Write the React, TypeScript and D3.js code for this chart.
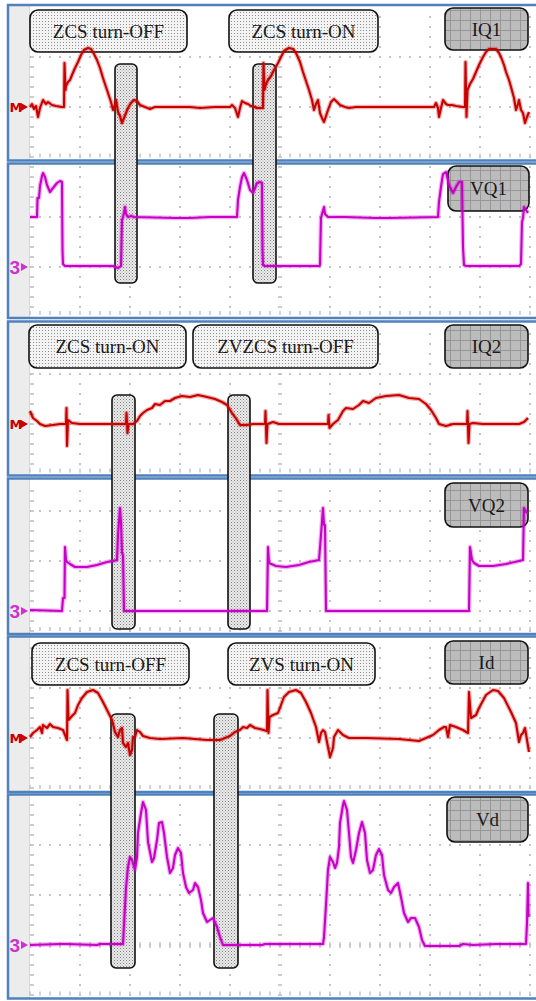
import React from 'react';
import * as d3 from 'd3';

type Pt = [number, number];

// time in minor divisions (10 per major division), value in minor divisions above the channel marker
const iq1: Pt[] = [
  [0, 0], [0.2, 0.3], [0.4, -0.2], [0.6, 0.1], [0.8, -1.0], [1.0, -0.1], [1.3, 0.7], [1.6, 0.3], [1.8, 0.5],
  [2.2, 0.2], [2.6, 0.1], [3.2, 0], [3.4, 0], [3.45, 4.4], [3.55, 1.7], [3.6, 2.1], [3.8, 2.5], [4.0, 2.7],
  [4.2, 3.2], [4.5, 3.9], [4.8, 4.5], [5.1, 5.2], [5.4, 5.7], [5.8, 5.9], [6.1, 5.8], [6.4, 5.3], [6.7, 4.7],
  [7.0, 3.9], [7.3, 2.9], [7.6, 2.0], [7.9, 1.1], [8.1, 0.5], [8.3, -0.3], [8.5, 0.3], [8.6, 0.7], [8.8, -0.5],
  [9.0, -0.9], [9.2, -1.6], [9.4, -1.1], [9.6, -0.6], [9.8, -0.1], [10.1, 0.4], [10.4, 0.7], [10.7, 0.6],
  [11.0, 0.2], [11.5, 0], [12.0, -0.2], [12.5, 0], [16.0, 0], [17.0, -0.1], [18.5, 0], [20.0, 0], [20.2, 0.2],
  [20.5, -0.1], [20.8, -1.0], [21.0, -0.1], [21.2, 0.6], [21.5, 0.4], [21.8, 0.3], [22.1, 0.1], [22.5, 0],
  [22.7, -0.1], [23.3, -0.1], [23.35, 4.4], [23.45, 1.7], [23.6, 2.3], [23.8, 2.7], [24.1, 3.1], [24.4, 3.7],
  [24.8, 4.4], [25.1, 5.0], [25.4, 5.6], [25.9, 5.9], [26.3, 5.8], [26.6, 5.4], [27.0, 4.5], [27.3, 3.5],
  [27.6, 2.6], [27.9, 1.7], [28.2, 0.7], [28.4, -0.3], [28.6, 0.3], [28.8, 0.7], [29.0, -0.6], [29.2, -1.1],
  [29.4, -1.5], [29.6, -0.9], [29.8, -0.3], [30.1, 0.5], [30.4, 0.8], [30.7, 0.5], [31.0, 0.2], [31.5, 0],
  [31.9, -0.1], [32.6, 0], [40.4, 0], [40.6, 0.4], [40.8, -0.1], [40.9, -1.0], [41.1, -0.1], [41.3, 0.7],
  [41.6, 0.3], [41.8, 0.2], [42.2, 0.2], [42.6, 0.1], [43.3, 0], [43.5, 0], [43.55, 4.5], [43.65, -1.0],
  [43.75, 1.7], [44.0, 2.3], [44.3, 2.8], [44.6, 3.5], [44.9, 4.2], [45.3, 5.0], [45.6, 5.5], [45.9, 5.8],
  [46.6, 5.8], [46.9, 5.4], [47.1, 5.0], [47.4, 4.2], [47.6, 3.5], [47.9, 2.7], [48.1, 2.0], [48.4, 0.9],
  [48.6, -0.3], [48.8, 0.3], [48.9, 0.7], [49.1, -0.3], [49.3, -0.6], [49.5, -1.6], [49.7, -1.0], [49.9, -0.5],
];

const vq1: Pt[] = [
  [0, 5.0], [0.7, 5.0], [0.75, 6.9], [0.9, 6.9], [1.0, 8.1], [1.2, 9.1], [1.3, 9.4], [1.5, 9.0], [1.7, 8.2],
  [2.0, 7.5], [2.3, 7.9], [2.7, 8.4], [3.0, 8.6], [3.2, 8.5], [3.25, 1.7], [3.3, 0.3], [3.5, 0.1], [8.3, 0.1],
  [8.8, -0.1], [9.1, 0.1], [9.2, 4.7], [9.3, 5.0], [9.4, 5.4], [9.5, 6.0], [9.6, 5.3], [9.8, 5.0], [10.1, 5.1],
  [10.4, 5.0], [14.5, 4.9], [16.0, 4.9], [18.0, 5.0], [20.7, 5.0], [20.8, 6.7], [21.0, 8.0], [21.2, 9.0],
  [21.4, 9.4], [21.7, 8.7], [22.0, 7.7], [22.3, 7.4], [22.7, 8.4], [23.0, 8.5], [23.2, 8.4], [23.25, 1.9],
  [23.3, 0.2], [23.5, 0.1], [28.9, 0.1], [29.0, 0.2], [29.1, 4.9], [29.2, 5.3], [29.4, 6.0], [29.5, 5.3],
  [29.8, 5.0], [31.5, 5.0], [34.5, 4.9], [36.0, 4.9], [40.8, 5.0], [40.9, 6.5], [41.1, 8.0], [41.3, 9.3],
  [41.6, 9.5], [41.9, 8.2], [42.3, 7.4], [42.6, 8.0], [42.9, 8.5], [43.2, 8.5], [43.3, 2.0], [43.4, 0.2],
  [43.6, 0.1], [48.9, 0.1], [49.1, 0.3], [49.2, 4.5], [49.3, 4.9], [49.4, 6.0], [49.6, 5.7], [49.8, 5.4],
];

const iq2: Pt[] = [
  [0, 1.3], [0.3, 0.6], [0.7, 0.3], [1.0, 0], [1.5, -0.2], [2.3, -0.1], [3.0, 0], [3.6, 0], [3.65, 1.6],
  [3.7, -2.2], [3.8, 0.4], [4.2, 0.1], [5.0, 0], [8.3, 0], [9.6, 0], [9.65, 1.1], [9.75, -0.9], [9.85, 0],
  [10.3, 0], [10.7, 0.3], [11.0, 0.8], [11.3, 1.1], [11.7, 1.4], [12.2, 1.6], [12.5, 2.0], [13.0, 1.9],
  [13.5, 2.3], [14.0, 2.3], [14.5, 2.6], [15.2, 2.8], [16.0, 2.7], [16.8, 2.9], [17.7, 2.7], [18.5, 2.5],
  [19.2, 2.2], [19.7, 1.9], [20.2, 1.1], [20.7, 0.4], [21.0, -0.1], [21.7, -0.1], [22.3, 0], [23.5, 0],
  [23.55, 1.3], [23.65, -1.9], [23.75, 0], [24.3, 0.2], [24.9, 0], [29.8, 0], [29.85, 0.9], [29.95, -0.4],
  [30.3, 0], [30.8, 0.4], [31.3, 1.3], [31.6, 1.6], [32.3, 1.5], [32.9, 1.9], [33.3, 2.3], [33.9, 2.1],
  [34.6, 2.6], [35.6, 2.8], [36.9, 2.9], [37.9, 2.6], [38.9, 2.5], [39.6, 2.0], [40.1, 1.4], [40.6, 0.6],
  [40.9, 0], [41.6, -0.2], [42.3, 0], [43.7, 0], [43.75, 1.3], [43.85, -1.9], [43.95, 0], [44.3, 0.1],
  [45.3, 0], [48.9, 0], [49.4, 0.2], [49.8, 0.6],
];

const vq2: Pt[] = [
  [0, 0.1], [3.2, 0], [3.3, 1.3], [3.45, 1.3], [3.5, 6.4], [3.6, 5.1], [3.7, 4.9], [4.0, 4.7], [4.5, 4.4],
  [5.7, 4.4], [6.7, 4.6], [7.7, 4.9], [8.3, 5.0], [8.7, 5.1], [8.8, 7.6], [9.0, 10.3], [9.1, 8.9], [9.2, 5.8],
  [9.3, 5.6], [9.4, 0], [9.7, 0], [23.7, 0], [23.8, 6.4], [23.9, 4.8], [24.6, 4.5], [25.6, 4.4], [26.9, 4.6],
  [27.9, 4.9], [28.9, 5.1], [29.1, 7.6], [29.3, 10.3], [29.4, 8.6], [29.5, 8.6], [29.6, 0], [43.9, 0],
  [44.0, 6.4], [44.2, 5.1], [44.4, 4.8], [44.9, 4.5], [46.3, 4.5], [47.6, 4.7], [48.9, 5.0], [49.3, 5.1],
  [49.4, 10.3], [49.6, 9.9], [49.8, 9.8],
];

const idr: Pt[] = [
  [0, 0.1], [0.3, 0.5], [0.7, 0.8], [1.0, 1.1], [1.2, 0.5], [1.3, 1.3], [1.7, 1.0], [2.0, 1.4], [2.3, 1.1],
  [2.8, 1.0], [3.3, 0.8], [3.7, -0.2], [3.75, 4.8], [3.85, 1.8], [4.2, 2.2], [4.5, 2.5], [4.8, 3.3], [5.2, 4.0],
  [5.7, 4.6], [6.3, 4.8], [6.8, 4.5], [7.3, 3.6], [7.8, 2.6], [8.2, 1.8], [8.5, 0.6], [8.8, 0.1], [9.0, 0.8],
  [9.2, 1.0], [9.3, -0.5], [9.6, -0.9], [9.8, -0.5], [10.0, -1.7], [10.2, -1.2], [10.3, 0.1], [10.5, 0.1],
  [10.7, 0.8], [11.0, 0.6], [11.3, 0.2], [12.0, 0], [13.0, -0.1], [15.3, 0], [17.7, -0.2], [19.0, -0.2],
  [20.0, 0.2], [20.5, 0.6], [21.0, 0.8], [21.3, 1.1], [21.7, 1.0], [22.0, 1.3], [22.5, 1.0], [23.0, 0.9],
  [23.7, 0.7], [23.75, 4.8], [23.85, 0.5], [23.95, 2.1], [24.3, 2.3], [24.8, 2.5], [25.1, 3.3], [25.4, 4.1],
  [25.9, 4.6], [26.6, 4.8], [27.1, 4.5], [27.6, 3.6], [28.1, 2.5], [28.6, 1.1], [28.9, -0.4], [29.1, 0.5],
  [29.3, 0.8], [29.5, 0.6], [29.8, -0.9], [30.0, -1.9], [30.3, -1.0], [30.4, 0.1], [30.8, 0.8], [31.3, 0.3],
  [31.9, 0], [33.6, 0], [36.9, -0.1], [38.9, -0.3], [39.6, 0], [40.3, 0.3], [40.9, 0.8], [41.4, 1.1],
  [41.6, 1.1], [41.8, 0.1], [42.0, 1.3], [42.6, 1.1], [43.3, 0.8], [43.8, 0.5], [43.9, 4.6], [44.1, 2.0],
  [44.6, 2.3], [44.9, 3.0], [45.6, 4.3], [46.3, 4.8], [46.8, 4.7], [47.4, 4.0], [48.1, 2.6], [48.6, 1.5],
  [48.9, -0.4], [49.1, 0.3], [49.3, 0.5], [49.5, 1.0], [49.7, -0.2], [49.9, -1.4],
];

const vd: Pt[] = [
  [0, 0], [3.0, 0.1], [3.7, 0.1], [6.7, 0], [7.0, 0.1], [9.3, 0.1], [9.4, 2.0], [9.6, 5.7], [9.8, 7.8],
  [10.0, 8.8], [10.2, 8.5], [10.5, 7.5], [10.7, 8.8], [10.8, 11.2], [11.1, 13.2], [11.3, 14.3], [11.6, 13.5],
  [11.8, 10.3], [12.2, 8.3], [12.4, 8.7], [12.7, 10.5], [12.9, 12.2], [13.2, 12.3], [13.4, 11.2], [13.7, 8.8],
  [14.0, 7.2], [14.3, 7.7], [14.5, 9.0], [14.8, 9.7], [15.1, 9.2], [15.3, 7.2], [15.6, 5.8], [15.9, 5.2],
  [16.3, 5.5], [16.5, 6.2], [16.8, 5.8], [17.1, 4.5], [17.3, 3.2], [17.7, 2.3], [18.0, 2.5], [18.3, 2.7],
  [18.7, 1.8], [19.0, 0.8], [19.3, 0], [23.2, 0], [23.5, 0.1], [26.6, 0.1], [29.3, 0.1], [29.4, 0.8],
  [29.6, 4.0], [29.8, 7.5], [30.0, 8.8], [30.3, 8.3], [30.5, 7.7], [30.7, 8.2], [30.9, 9.8], [31.0, 12.2],
  [31.3, 14.0], [31.4, 14.4], [31.7, 13.5], [31.9, 11.2], [32.1, 8.8], [32.3, 8.2], [32.6, 9.5], [32.9, 11.2],
  [33.2, 12.3], [33.5, 11.2], [33.7, 8.5], [34.0, 7.2], [34.3, 7.5], [34.6, 9.0], [34.9, 9.6], [35.2, 9.0],
  [35.4, 7.0], [35.8, 5.5], [36.1, 5.2], [36.4, 5.8], [36.8, 6.2], [37.1, 4.8], [37.4, 3.2], [37.8, 2.3],
  [38.1, 2.7], [38.5, 2.7], [38.9, 1.8], [39.2, 0.5], [39.5, -0.1], [42.9, -0.1], [43.3, 0.1], [44.3, 0],
  [46.6, 0.1], [49.6, 0.1], [49.7, 2.2], [49.8, 6.2], [49.85, 2.8],
];

const channelNames = ['IQ1', 'VQ1', 'IQ2', 'VQ2', 'Id', 'Vd'];
const channelMarkers = ['M', '3', 'M', '3', 'M', '3'];
const eventLabels = [
  ['ZCS turn-OFF', 'ZCS turn-ON'],
  ['ZCS turn-ON', 'ZVZCS turn-OFF'],
  ['ZCS turn-OFF', 'ZVS turn-ON'],
];
// highlighted switching windows (time, minor divisions)
const eventWindows: [number, number][][] = [
  [[8.5, 10.7], [22.3, 24.6]],
  [[8.2, 10.5], [19.8, 22.0]],
  [[8.1, 10.5], [18.4, 20.8]],
];

// layout
const W = 536;
const H = 1001;
const frames = [
  { top: 5, bottom: 160.5, ground: 107 },
  { top: 163.5, bottom: 318, ground: 267 },
  { top: 321.5, bottom: 475.5, ground: 424 },
  { top: 478.5, bottom: 634, ground: 611 },
  { top: 636.5, bottom: 792, ground: 738 },
  { top: 794.5, bottom: 998.5, ground: 945 },
];
const nameBoxes = [
  [445, 8, 528, 50], [448, 166, 529, 211], [445, 325, 528, 368],
  [445, 483, 528, 527], [445, 641, 528, 684], [447, 797, 528, 842],
];
const labelBoxes = [
  [[30, 10, 187, 52], [229, 10, 378, 52]],
  [[29, 325, 186, 368], [193, 325, 378, 368]],
  [[32, 643, 189, 685], [228, 643, 375, 685]],
];
const windowSpans = [[64, 283], [395, 629], [714, 968]];

const RED = '#c80000';
const MAG = '#c800c8';
const MARK_MAG = '#d030d0';
const BLUE = '#4f81bd';
const SERIF = '"Liberation Serif", "Times New Roman", serif';

export default function App() {
  const series = [iq1, vq1, iq2, vq2, idr, vd];
  const x = d3.scaleLinear().domain([0, 50]).range([30, 530]);
  const minor = d3.range(0, 51);
  const majors = d3.range(0, 51, 5);

  return (
    <svg width={W} height={H} viewBox={`0 0 ${W} ${H}`}
      style={{ position: 'absolute', left: 0, top: 0, background: '#fff' }}>
      <defs>
        <pattern id="dotsLight" width="3" height="3" patternUnits="userSpaceOnUse">
          <rect width="3" height="3" fill="#f3f3f3" />
          <rect width="1" height="1" fill="#8f8f8f" />
        </pattern>
        <pattern id="dotsDark" width="3" height="3" patternUnits="userSpaceOnUse">
          <rect width="3" height="3" fill="#eaeaea" />
          <rect width="1" height="1" fill="#808080" />
          <rect x="1.5" y="1.5" width="1" height="1" fill="#a8a8a8" />
        </pattern>
        <pattern id="gridDark" width="10" height="10" patternUnits="userSpaceOnUse">
          <rect width="10" height="10" fill="#bcbcbc" />
          <path d="M0 0.5H10M0.5 0V10" stroke="#979797" strokeWidth="1" />
        </pattern>
        {frames.map((f, i) => (
          <clipPath id={`clip${i}`} key={i}>
            <rect x={9} y={f.top + 1} width={W} height={f.bottom - f.top - 2} />
          </clipPath>
        ))}
      </defs>

      {/* panels: background, graticule, border */}
      {frames.map((f, i) => {
        const y = d3.scaleLinear().domain([0, 1]).range([f.ground, f.ground - 10]);
        const vMin = Math.ceil(y.invert(f.bottom - 2));
        const vMax = Math.floor(y.invert(f.top + 3));
        const minorV = d3.range(vMin, vMax + 1);
        const majorV = minorV.filter(v => v % 5 === 0 && y(v) > f.top + 5 && y(v) < f.bottom - 4);
        const startY = y(vMax) - 1;
        return (
          <g key={i}>
            <rect x={8} y={f.top} width={W} height={f.bottom - f.top} fill="#fff" />
            <rect x={9} y={f.top} width={21} height={f.bottom - f.top} fill="#ececec" />
            {majorV.map(v => (
              <line key={`h${v}`} x1={x(0) - 1} x2={x(50) + 1} y1={y(v)} y2={y(v)}
                stroke="#c4c4c4" strokeWidth={2} strokeDasharray="2 8" />
            ))}
            {majors.filter(t => t !== 0 && t !== 25).map(t => (
              <line key={`v${t}`} x1={x(t)} x2={x(t)} y1={startY} y2={f.bottom - 2}
                stroke="#c4c4c4" strokeWidth={2} strokeDasharray="2 8" />
            ))}
            {minorV.map(v => (
              <g key={`t${v}`}>
                <line x1={x(0)} x2={x(0) + 4} y1={y(v)} y2={y(v)} stroke="#bcbcbc" strokeWidth={1.5} />
                <line x1={x(25) - 2} x2={x(25) + 2} y1={y(v)} y2={y(v)} stroke="#bcbcbc" strokeWidth={1.5} />
              </g>
            ))}
            <line x1={x(0) - 0.5} x2={x(0) - 0.5} y1={f.top} y2={f.bottom} stroke="#d8d8d8" strokeWidth={1} />
            {minor.map(t => (
              <line key={`b${t}`} x1={x(t)} x2={x(t)} y1={f.bottom - 7} y2={f.bottom - 3}
                stroke="#c4c4c4" strokeWidth={1.5} />
            ))}
            {i === 5 && minor.map(t => (
              <line key={`c${t}`} x1={x(t)} x2={x(t)} y1={y(0) - 3} y2={y(0) + 3}
                stroke="#c4c4c4" strokeWidth={1.5} />
            ))}
            <rect x={8} y={f.top} width={W} height={f.bottom - f.top} fill="none"
              stroke={BLUE} strokeWidth={2.5} />
          </g>
        );
      })}

      {/* switching windows */}
      {eventWindows.map((ws, g) => ws.map((w, k) => (
        <rect key={`w${g}${k}`} x={x(w[0])} y={windowSpans[g][0]} width={x(w[1]) - x(w[0])}
          height={windowSpans[g][1] - windowSpans[g][0]} rx={5} fill="url(#dotsDark)"
          stroke="#111" strokeWidth={1.6} />
      )))}

      {/* event labels */}
      {eventLabels.map((labels, g) => labels.map((lab, k) => {
        const b = labelBoxes[g][k];
        return (
          <g key={`l${g}${k}`}>
            <rect x={b[0]} y={b[1]} width={b[2] - b[0]} height={b[3] - b[1]} rx={8}
              fill="url(#dotsLight)" stroke="#111" strokeWidth={1.6} />
            <text x={(b[0] + b[2]) / 2} y={(b[1] + b[3]) / 2 + 6.5} textAnchor="middle"
              fontFamily={SERIF} fontSize={19} fill="#1a1a1a">{lab}</text>
          </g>
        );
      }))}

      {/* channel name boxes */}
      {channelNames.map((nm, i) => {
        const b = nameBoxes[i];
        return (
          <g key={`n${i}`}>
            <rect x={b[0]} y={b[1]} width={b[2] - b[0]} height={b[3] - b[1]} rx={8}
              fill="url(#gridDark)" stroke="#111" strokeWidth={1.6} />
            <text x={(b[0] + b[2]) / 2} y={(b[1] + b[3]) / 2 + 6.5} textAnchor="middle"
              fontFamily={SERIF} fontSize={19} fill="#1a1a1a">{nm}</text>
          </g>
        );
      })}

      {/* traces and channel markers */}
      {frames.map((f, i) => {
        const y = d3.scaleLinear().domain([0, 1]).range([f.ground, f.ground - 10]);
        const line = d3.line<Pt>().x(d => x(d[0])).y(d => y(d[1]));
        const color = i % 2 === 0 ? RED : MAG;
        const d = line(series[i]) || '';
        const g0 = y(0);
        return (
          <g key={`s${i}`}>
            <g clipPath={`url(#clip${i})`}>
              <path d={d} fill="none" stroke={color} strokeOpacity={0.3} strokeWidth={4.5}
                strokeLinejoin="round" />
              <path d={d} fill="none" stroke={color} strokeWidth={2.1} strokeLinejoin="round" />
            </g>
            {channelMarkers[i] === '3' ? (
              <text x={9.5} y={g0 + 7} fontFamily='"Liberation Sans", Arial, sans-serif' fontSize={19}
                fontWeight="bold" fill={MARK_MAG}>3</text>
            ) : (
              <text x={9.5} y={g0 + 5} fontFamily='"DejaVu Sans", sans-serif' fontSize={13}
                fontWeight="bold" fill={RED}>M</text>
            )}
            <path d={`M${21},${g0 - 4}L${28},${g0}L${21},${g0 + 4}Z`}
              fill={i % 2 === 0 ? RED : MARK_MAG} />
          </g>
        );
      })}
    </svg>
  );
}
